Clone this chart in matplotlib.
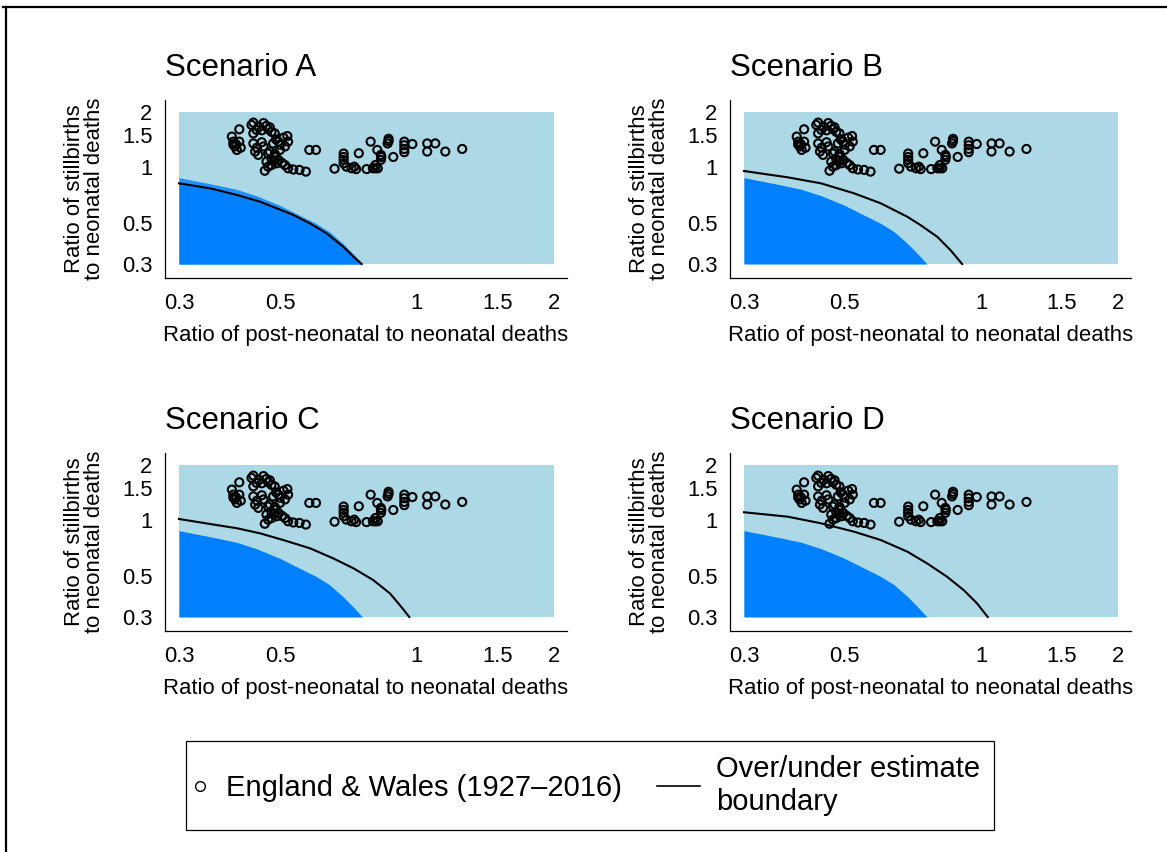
import matplotlib
matplotlib.use("Agg")
import matplotlib.pyplot as plt
from matplotlib.lines import Line2D
from matplotlib.legend_handler import HandlerLine2D
from matplotlib.offsetbox import TextArea
from matplotlib.ticker import NullLocator, FixedLocator, FixedFormatter

plt.rcParams['font.family'] = ['Liberation Sans', 'DejaVu Sans']

# ---------------- data ----------------
# England & Wales (1927-2016): post-neonatal/neonatal ratio vs stillbirth/neonatal ratio
ew_post_neonatal = [
    0.407, 0.392, 0.395, 0.398, 0.402, 0.407, 0.400, 0.433, 0.437, 0.444,
    0.460, 0.467, 0.471, 0.479, 0.487, 0.437, 0.456, 0.437, 0.441, 0.456,
    0.460, 0.475, 0.483, 0.496, 0.509, 0.519, 0.521, 0.513, 0.500, 0.487,
    0.471, 0.448, 0.467, 0.479, 0.487, 0.496, 0.505, 0.513, 0.471, 0.463,
    0.479, 0.492, 0.521, 0.535, 0.552, 0.570, 0.580, 0.600, 0.450, 0.475,
    0.490, 0.500, 0.445, 0.485, 0.410, 0.395,
    0.659, 0.690, 0.690, 0.690, 0.690, 0.700, 0.718, 0.728, 0.735, 0.745,
    0.775, 0.791, 0.800, 0.810, 0.820, 0.810, 0.818, 0.833, 0.833, 0.835,
    0.866, 0.866, 0.862, 0.887, 0.938, 0.938, 0.938, 0.938, 0.977, 1.053,
    1.053, 1.097, 1.154, 1.257,
]
ew_stillbirth = [
    1.61, 1.47, 1.38, 1.30, 1.245, 1.38, 1.34, 1.70, 1.75, 1.60,
    1.74, 1.68, 1.61, 1.56, 1.53, 1.53, 1.59, 1.35, 1.22, 1.37,
    1.30, 1.22, 1.35, 1.38, 1.45, 1.48, 1.38, 1.30, 1.245, 1.185,
    1.19, 1.17, 1.075, 1.11, 1.14, 1.10, 1.06, 1.03, 1.01, 0.96,
    1.03, 1.054, 0.99, 0.975, 0.97, 0.95, 1.245, 1.245, 1.66, 1.65,
    1.42, 1.33, 1.28, 1.08, 1.28, 1.33,
    0.985, 1.14, 1.19, 1.054, 1.10, 1.01, 0.99, 1.01, 0.98, 1.194,
    0.98, 1.38, 0.99, 0.99, 0.99, 1.03, 1.245, 1.17, 1.10, 1.14,
    1.43, 1.39, 1.35, 1.14, 1.38, 1.32, 1.26, 1.21, 1.34, 1.35,
    1.22, 1.35, 1.22, 1.26,
]

# under-estimate region (same in every scenario)
region_x = [0.300, 0.362, 0.401, 0.444, 0.498, 0.542, 0.600, 0.642, 0.687, 0.722, 0.759]
region_y = [0.881, 0.804, 0.762, 0.703, 0.626, 0.564, 0.498, 0.449, 0.388, 0.343, 0.300]

# over/under estimate boundaries
boundary_a_x = [0.300, 0.351, 0.402, 0.452, 0.492, 0.535, 0.582, 0.633, 0.689, 0.725, 0.756]
boundary_a_y = [0.821, 0.771, 0.710, 0.653, 0.601, 0.553, 0.498, 0.440, 0.372, 0.329, 0.300]
boundary_b_x = [0.300, 0.374, 0.443, 0.524, 0.600, 0.687, 0.734, 0.800, 0.855, 0.907]
boundary_b_y = [0.957, 0.885, 0.821, 0.725, 0.640, 0.541, 0.488, 0.421, 0.357, 0.300]
boundary_c_x = [0.300, 0.351, 0.402, 0.452, 0.508, 0.582, 0.654, 0.725, 0.801, 0.872, 0.917, 0.962]
boundary_c_y = [1.019, 0.957, 0.908, 0.852, 0.784, 0.707, 0.624, 0.551, 0.476, 0.403, 0.348, 0.300]
boundary_d_x = [0.300, 0.374, 0.443, 0.524, 0.600, 0.687, 0.759, 0.840, 0.914, 0.978, 1.033]
boundary_d_y = [1.108, 1.049, 0.966, 0.870, 0.784, 0.678, 0.586, 0.496, 0.420, 0.356, 0.300]

scenario_titles = ["Scenario A", "Scenario B", "Scenario C", "Scenario D"]
boundaries_x = [boundary_a_x, boundary_b_x, boundary_c_x, boundary_d_x]
boundaries_y = [boundary_a_y, boundary_b_y, boundary_c_y, boundary_d_y]

ratio_min, ratio_max = 0.3, 2.0
x_ticks = [0.3, 0.5, 1, 1.5, 2]
x_tick_labels = ["0.3", "0.5", "1", "1.5", "2"]
y_ticks = [0.3, 0.5, 1, 1.5, 2]
y_tick_labels = ["0.3", "0.5", "1", "1.5", "2"]

LIGHT = "#ADD8E6"
DARK = "#0080FF"
MID = "#1E90FF"

W, H = 1167, 852
fig = plt.figure(figsize=(W / 100, H / 100), dpi=100)

def px_axes(left, top, right, bottom):
    return [left / W, 1 - bottom / H, (right - left) / W, (bottom - top) / H]

positions = [
    px_axes(165, 100, 567, 278),
    px_axes(730, 100, 1131, 278),
    px_axes(165, 453, 567, 631),
    px_axes(730, 453, 1131, 631),
]

for i, pos in enumerate(positions):
    ax = fig.add_axes(pos)
    ax.set_xscale('log')
    ax.set_yscale('log')
    ax.set_xlim(0.2795, 2.136)
    ax.set_ylim(0.252, 2.32)
    ax.set_facecolor('white')
    ax.fill_between([ratio_min, ratio_max], ratio_min, ratio_max, color=LIGHT, lw=0, zorder=1)
    bx, by = boundaries_x[i], boundaries_y[i]
    if i == 0:
        ax.fill_between(region_x, ratio_min, region_y, color=MID, lw=0, zorder=1.5)
        ax.fill_between(bx, ratio_min, by, color=DARK, lw=0, zorder=1.6)
    else:
        ax.fill_between(region_x, ratio_min, region_y, color=DARK, lw=0, zorder=1.5)
    ax.plot(bx, by, color='black', lw=1.5, zorder=2)
    ax.scatter(ew_post_neonatal, ew_stillbirth, s=34, facecolors='none',
               edgecolors='black', linewidths=1.5, zorder=3)

    for s in ['top', 'right']:
        ax.spines[s].set_visible(False)
    for s in ['left', 'bottom']:
        ax.spines[s].set_linewidth(0.9)
        ax.spines[s].set_color('black')
    ax.xaxis.set_major_locator(FixedLocator(x_ticks))
    ax.xaxis.set_major_formatter(FixedFormatter(x_tick_labels))
    ax.yaxis.set_major_locator(FixedLocator(y_ticks))
    ax.yaxis.set_major_formatter(FixedFormatter(y_tick_labels))
    ax.xaxis.set_minor_locator(NullLocator())
    ax.yaxis.set_minor_locator(NullLocator())
    ax.tick_params(axis='x', length=0, labelsize=15.8, pad=11)
    ax.tick_params(axis='y', length=0, labelsize=15.8, pad=9)
    ax.set_xlabel("Ratio of post-neonatal to neonatal deaths", fontsize=15.9, labelpad=8)
    ax.set_ylabel("Ratio of stillbirths\nto neonatal deaths", fontsize=15.9, labelpad=12,
                  linespacing=0.95)
    ax.set_title(scenario_titles[i], loc='left', fontsize=22.5, pad=17)


class PointHandler(HandlerLine2D):
    def get_xdata(self, legend, xdescent, ydescent, width, height, fontsize):
        xd = [-xdescent + 0.0 * fontsize]
        return xd, xd


class LongLineHandler(HandlerLine2D):
    def get_xdata(self, legend, xdescent, ydescent, width, height, fontsize):
        xd = [-xdescent + width - 1.45 * fontsize, -xdescent + width]
        return xd, xd


h_pts = Line2D([], [], marker='o', ls='none', mfc='none', mec='black', ms=7, mew=1.0)
h_line = Line2D([], [], color='black', lw=1.2)
leg = fig.legend([h_pts, h_line],
                 ["England & Wales (1927\u20132016)", "Over/under estimate\nboundary"],
                 ncol=2, loc='center', bbox_to_anchor=(590 / W, 1 - 785.5 / H),
                 fontsize=21, frameon=True, fancybox=False, edgecolor='black',
                 framealpha=1, handlelength=0.32, handletextpad=0.55, columnspacing=2.36,
                 borderpad=0.5, numpoints=1,
                 handler_map={h_pts: PointHandler(), h_line: LongLineHandler()})
leg.get_frame().set_linewidth(0.9)
for ta in leg.findobj(lambda a: isinstance(a, TextArea)):
    ta._multilinebaseline = True

# partial outer frame
fig.add_artist(Line2D([3 / W, 1], [1 - 6.7 / H, 1 - 6.7 / H], transform=fig.transFigure,
                      color='black', lw=1.6))
fig.add_artist(Line2D([5.8 / W, 5.8 / W], [0, 1 - 6.7 / H], transform=fig.transFigure,
                      color='black', lw=1.6))

fig.savefig("out.png", dpi=100)
